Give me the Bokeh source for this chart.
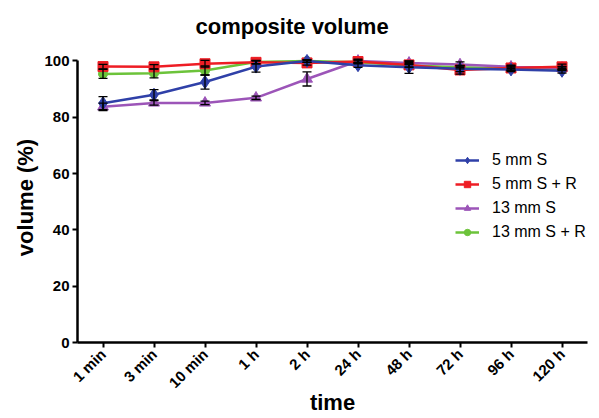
import math
from bokeh.plotting import figure
from bokeh.models import (ColumnDataSource, Whisker, TeeHead, Legend, LegendItem,
                          FixedTicker, Title)
from bokeh.embed import file_html
from bokeh.resources import INLINE

# ---- data ----
times = ["1 min", "3 min", "10 min", "1 h", "2 h", "24 h", "48 h", "72 h", "96 h", "120 h"]

s5 = [85.0, 88.0, 92.5, 98.0, 100.0, 98.5, 97.8, 97.2, 97.0, 96.5]
s5_err = [2.3, 1.8, 2.5, 2.0, 0.5, 0.8, 2.2, 1.0, 0.8, 0.8]

s5r = [98.0, 97.9, 99.0, 99.5, 99.3, 99.8, 98.6, 96.8, 97.5, 97.9]
s5r_err = [0.8, 0.8, 1.2, 0.5, 0.8, 0.5, 0.8, 1.5, 0.8, 1.0]

s13 = [83.7, 85.1, 85.1, 86.9, 93.6, 100.0, 99.3, 98.7, 97.9, 97.5]
s13_err = [1.3, 0.8, 0.6, 0.6, 2.5, 0.6, 0.6, 1.0, 0.6, 0.6]

s13r = [95.4, 95.6, 96.6, 99.6, 100.0, 99.5, 98.4, 97.8, 97.3, 97.2]
s13r_err = [1.6, 1.6, 1.6, 0.6, 0.5, 0.5, 0.6, 0.6, 0.6, 0.6]

names = ["5 mm S", "5 mm S + R", "13 mm S", "13 mm S + R"]
colors = ["#2f40a8", "#ee1d24", "#9c55b8", "#6cc33a"]
markers = ["diamond", "square", "triangle", "circle"]
msizes = [13, 10, 11, 9]

series = [s5, s5r, s13, s13r]
errs = [s5_err, s5r_err, s13_err, s13r_err]

FONT = "Liberation Sans"

p = figure(width=599, height=418, x_range=times, y_range=(0, 103),
           output_backend="svg", toolbar_location=None,
           min_border_left=77, min_border_right=12, min_border_top=52,
           min_border_bottom=10)
p.x_range.range_padding = 0
p.outline_line_color = None
p.xgrid.grid_line_color = None
p.ygrid.grid_line_color = None
p.background_fill_color = "white"

title = Title(text="composite volume", align="left", offset=118,
              vertical_align="top",
              text_font=FONT, text_font_size="22px", text_font_style="bold",
              text_color="black", standoff=23)
p.add_layout(title, "above")

# axes
p.yaxis.ticker = FixedTicker(ticks=[0, 20, 40, 60, 80, 100])
p.yaxis.bounds = (0, 100)
for ax in (p.xaxis, p.yaxis):
    ax.axis_line_width = 2.5
    ax.axis_line_color = "black"
    ax.major_tick_line_width = 2
    ax.major_tick_line_color = "black"
    ax.major_tick_out = 5
    ax.major_tick_in = 0
    ax.minor_tick_line_color = None
    ax.major_label_text_font = FONT
    ax.major_label_text_font_size = "15px"
    ax.major_label_text_font_style = "bold"
    ax.major_label_text_color = "black"
    ax.axis_label_text_font = FONT
    ax.axis_label_text_font_size = "22px"
    ax.axis_label_text_font_style = "bold"
    ax.axis_label_text_color = "black"
p.xaxis.axis_label = "time"
p.yaxis.axis_label = "volume (%)"
p.xaxis.major_label_orientation = math.pi / 4
p.xaxis.major_label_standoff = 4
p.yaxis.major_label_standoff = 3
p.xaxis.axis_label_standoff = -10
p.yaxis.axis_label_standoff = 3

items = {}
draw_order = [3, 2, 1, 0]
for i in draw_order:
    vals = series[i]
    e = errs[i]
    src = ColumnDataSource(dict(x=times, y=vals,
                                lo=[v - d for v, d in zip(vals, e)],
                                hi=[v + d for v, d in zip(vals, e)]))
    w = Whisker(source=src, base="x", lower="lo", upper="hi",
                line_color="black", line_width=1.3, level="glyph",
                upper_head=TeeHead(size=9, line_color="black", line_width=1.3),
                lower_head=TeeHead(size=9, line_color="black", line_width=1.3))
    p.add_layout(w)
    ln = p.line("x", "y", source=src, line_color=colors[i], line_width=2.5)
    sc = p.scatter("x", "y", source=src, marker=markers[i], size=msizes[i],
                   fill_color=colors[i], line_color=colors[i])
    items[i] = LegendItem(label=names[i], renderers=[ln, sc])

legend = Legend(items=[items[i] for i in range(4)], location=(378, 98),
                orientation="vertical", border_line_color=None,
                background_fill_alpha=0, padding=0, margin=0, spacing=0,
                label_text_font=FONT, label_text_font_size="16px",
                label_text_color="black", glyph_width=24, glyph_height=16,
                label_height=24, label_standoff=13)
p.add_layout(legend, "center")

open("out.html", "w").write(file_html(p, INLINE))
